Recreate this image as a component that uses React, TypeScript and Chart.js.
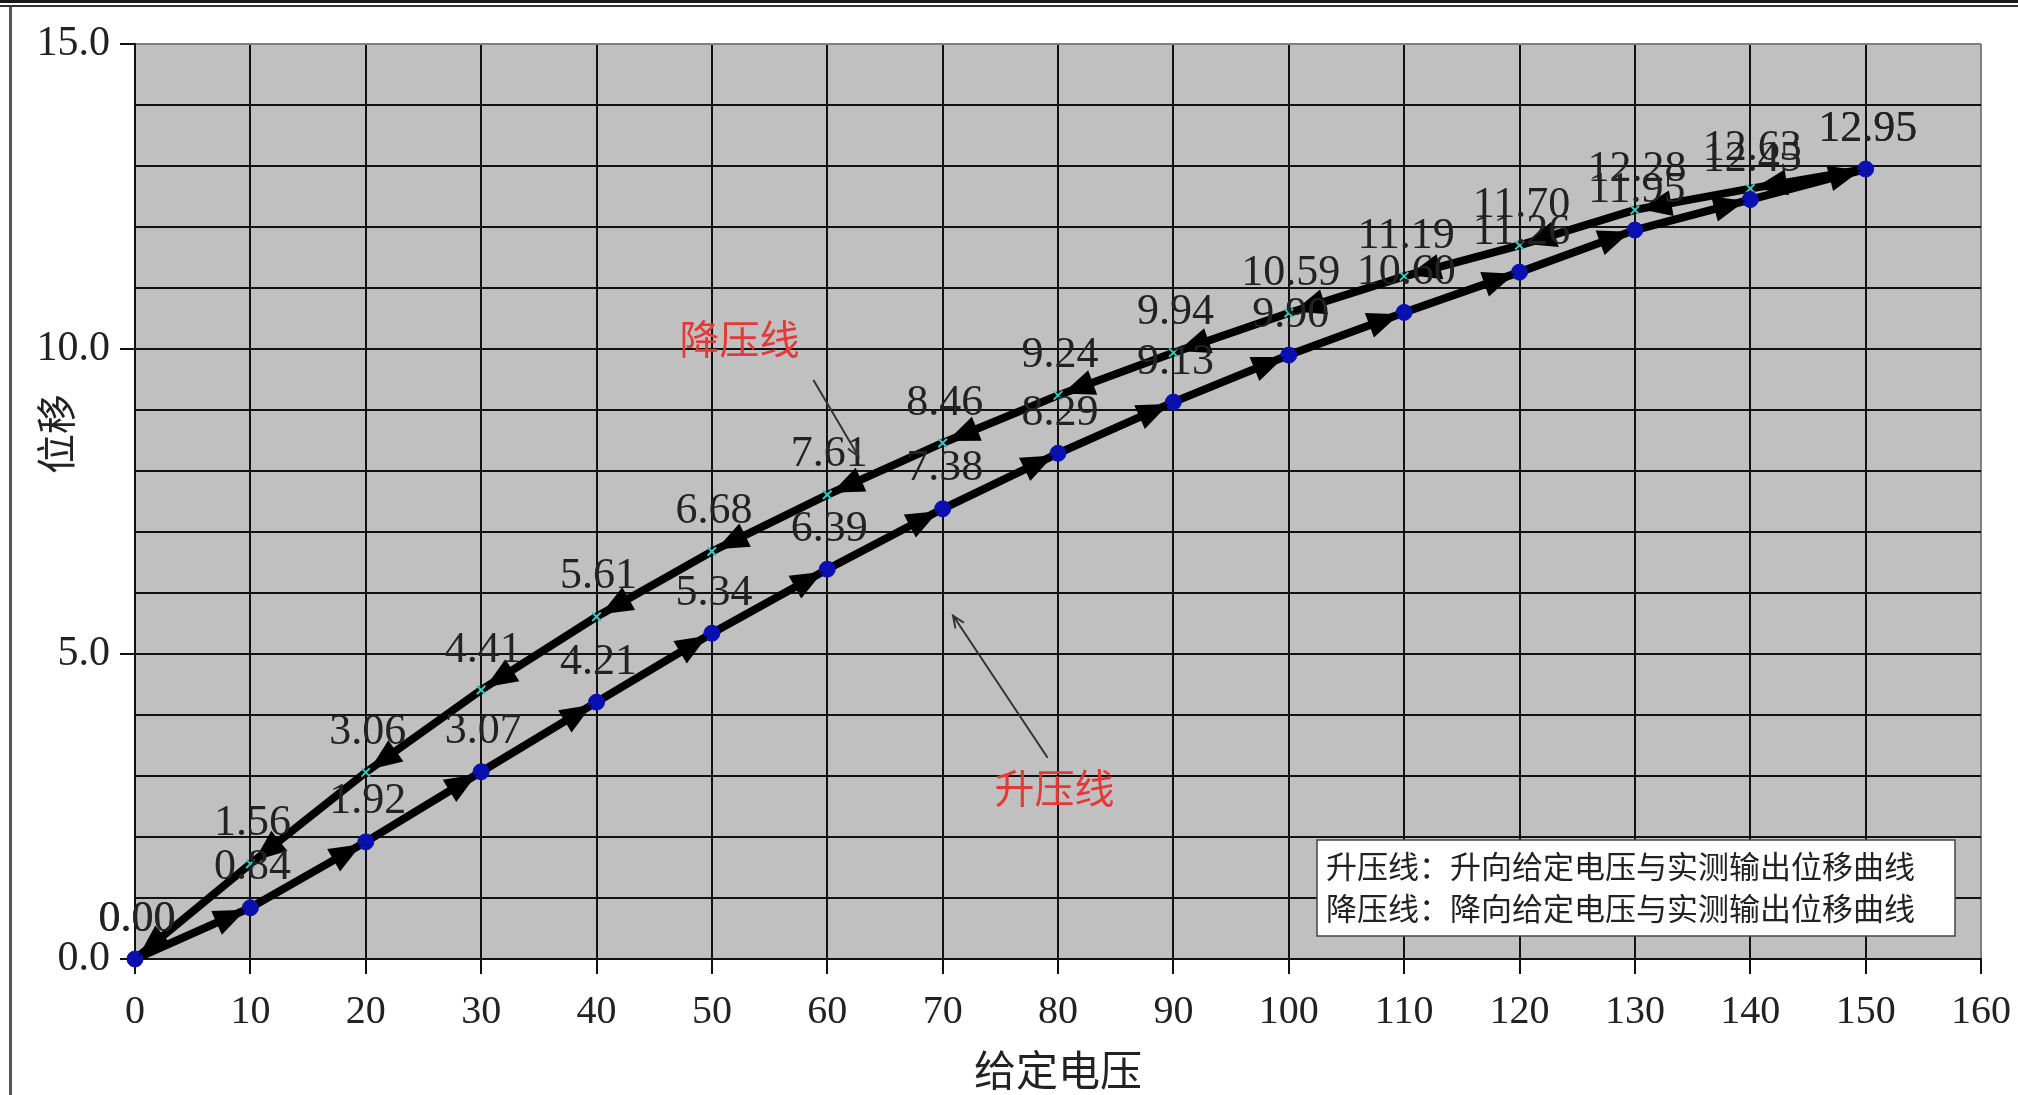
import React, { useEffect, useRef } from 'react';
import { Chart, registerables } from 'chart.js';

Chart.register(...registerables);

// ---- data ----
const riseVoltage = [0, 10, 20, 30, 40, 50, 60, 70, 80, 90, 100, 110, 120, 130, 140, 150];
const riseDisp = [0.0, 0.84, 1.92, 3.07, 4.21, 5.34, 6.39, 7.38, 8.29, 9.13, 9.9, 10.6, 11.26, 11.95, 12.45, 12.95];
const fallVoltage = [150, 140, 130, 120, 110, 100, 90, 80, 70, 60, 50, 40, 30, 20, 10, 0];
const fallDisp = [12.95, 12.63, 12.28, 11.7, 11.19, 10.59, 9.94, 9.24, 8.46, 7.61, 6.68, 5.61, 4.41, 3.06, 1.56, 0.0];

const xAxisTitle = '给定电压';
const yAxisTitle = '位移';
const legendLines = ['升压线：升向给定电压与实测输出位移曲线', '降压线：降向给定电压与实测输出位移曲线'];
const calloutTexts = ['降压线', '升压线'];
// callout anchors in data units: [labelX, labelY, lineFromX, lineFromY, lineToX, lineToY]
const calloutAnchors = [
  [52.4, 10.16, 58.8, 9.49, 62.7, 8.24],
  [79.7, 2.8, 79.1, 3.3, 70.9, 5.63],
];

const SERIF = "'Liberation Serif', 'DejaVu Serif', serif";
const CJK = "'Noto Sans CJK SC', sans-serif";

const decorPlugin = {
  id: 'decor',
  beforeDraw(chart: any) {
    const { ctx, chartArea: a, width, height } = chart;
    ctx.save();
    ctx.fillStyle = '#ffffff';
    ctx.fillRect(0, 0, width, height);
    ctx.fillStyle = '#C0C0C0';
    ctx.fillRect(a.left, a.top, a.right - a.left, a.bottom - a.top);
    // outer frame
    ctx.fillStyle = '#1a1a1a';
    ctx.fillRect(0, 0, width, 3);
    ctx.fillStyle = '#333';
    ctx.fillRect(0, 5, width, 2);
    ctx.fillStyle = '#555';
    ctx.fillRect(9, 7, 3, height - 7);
    ctx.restore();
  },
  afterDatasetsDraw(chart: any) {
    const { ctx, chartArea: a, scales } = chart;
    const xs = scales.x;
    const ys = scales.y;
    ctx.save();

    // arrowheads on every segment
    chart.data.datasets.forEach((ds: any, di: number) => {
      const meta = chart.getDatasetMeta(di);
      const pts = meta.data;
      for (let i = 0; i < pts.length - 1; i++) {
        const p0 = pts[i];
        const p1 = pts[i + 1];
        const dx = p1.x - p0.x;
        const dy = p1.y - p0.y;
        const len = Math.hypot(dx, dy);
        if (len < 1) continue;
        const ux = dx / len;
        const uy = dy / len;
        const tipX = p1.x - ux * 5;
        const tipY = p1.y - uy * 5;
        const bx = tipX - ux * 32;
        const by = tipY - uy * 32;
        const nx = -uy;
        const ny = ux;
        ctx.beginPath();
        ctx.moveTo(tipX, tipY);
        ctx.lineTo(bx + nx * 13, by + ny * 13);
        ctx.lineTo(bx - nx * 13, by - ny * 13);
        ctx.closePath();
        ctx.fillStyle = '#000';
        ctx.fill();
      }
    });

    // data labels
    ctx.font = `44px ${SERIF}`;
    ctx.fillStyle = '#222';
    ctx.textAlign = 'center';
    ctx.textBaseline = 'middle';
    chart.data.datasets.forEach((ds: any, di: number) => {
      const meta = chart.getDatasetMeta(di);
      meta.data.forEach((p: any, i: number) => {
        ctx.fillText(ds.data[i].y.toFixed(2), p.x + 2, p.y - 40);
      });
    });

    // callouts
    calloutTexts.forEach((t, i) => {
      const [lx, ly, fx, fy, tx, ty] = calloutAnchors[i];
      ctx.font = `40px ${CJK}`;
      ctx.fillStyle = '#E53838';
      ctx.textAlign = 'center';
      ctx.textBaseline = 'middle';
      ctx.fillText(t, xs.getPixelForValue(lx), ys.getPixelForValue(ly));
      const x0 = xs.getPixelForValue(fx);
      const y0 = ys.getPixelForValue(fy);
      const x1 = xs.getPixelForValue(tx);
      const y1 = ys.getPixelForValue(ty);
      ctx.strokeStyle = '#333';
      ctx.lineWidth = 2;
      ctx.beginPath();
      ctx.moveTo(x0, y0);
      ctx.lineTo(x1, y1);
      const ang = Math.atan2(y1 - y0, x1 - x0);
      ctx.moveTo(x1 - 13 * Math.cos(ang - 0.4), y1 - 13 * Math.sin(ang - 0.4));
      ctx.lineTo(x1, y1);
      ctx.lineTo(x1 - 13 * Math.cos(ang + 0.4), y1 - 13 * Math.sin(ang + 0.4));
      ctx.stroke();
    });

    // legend box
    const bx = a.right - 664;
    const by = a.bottom - 119;
    ctx.fillStyle = '#fff';
    ctx.fillRect(bx, by, 638, 96);
    ctx.strokeStyle = '#444';
    ctx.lineWidth = 1.5;
    ctx.strokeRect(bx, by, 638, 96);
    ctx.font = `31px ${CJK}`;
    ctx.fillStyle = '#222';
    ctx.textAlign = 'left';
    ctx.textBaseline = 'middle';
    legendLines.forEach((t, i) => ctx.fillText(t, bx + 9, by + 26 + i * 42));

    // y axis title
    ctx.save();
    ctx.translate(56, 434);
    ctx.rotate(-Math.PI / 2);
    ctx.font = `40px ${CJK}`;
    ctx.fillStyle = '#222';
    ctx.textAlign = 'center';
    ctx.textBaseline = 'middle';
    ctx.fillText(yAxisTitle, 0, 0);
    ctx.restore();

    ctx.restore();
  },
};

export default function App() {
  const ref = useRef<HTMLCanvasElement | null>(null);
  useEffect(() => {
    document.body.style.margin = '0';
    const canvas = ref.current;
    if (!canvas) return;
    const chart = new Chart(canvas, {
      type: 'line',
      data: {
        datasets: [
          {
            label: '升压线',
            data: riseVoltage.map((x, i) => ({ x, y: riseDisp[i] })),
            borderColor: '#000',
            borderWidth: 8,
            tension: 0,
            pointStyle: 'circle',
            pointRadius: 8,
            pointBackgroundColor: '#0A10B0',
            pointBorderColor: '#0A10B0',
            pointBorderWidth: 1,
            clip: false,
          },
          {
            label: '降压线',
            data: fallVoltage.map((x, i) => ({ x, y: fallDisp[i] })),
            borderColor: '#000',
            borderWidth: 8,
            tension: 0,
            pointStyle: 'crossRot',
            pointRadius: 6,
            pointBorderColor: '#3CC8C0',
            pointBackgroundColor: '#3CC8C0',
            pointBorderWidth: 2,
            clip: false,
          },
        ],
      },
      options: {
        responsive: false,
        animation: false,
        layout: { padding: { top: 44, right: 37, left: 0, bottom: 0 } },
        plugins: { legend: { display: false }, tooltip: { enabled: false } },
        scales: {
          x: {
            type: 'linear',
            min: 0,
            max: 160,
            afterFit: (s: any) => { s.height = 136; s.paddingRight = 0; s.paddingLeft = 0; },
            ticks: { stepSize: 10, font: { family: SERIF, size: 40 }, color: '#222', padding: 14, maxRotation: 0, autoSkip: false },
            grid: {
              color: (c: any) => (c.tick && c.tick.value === 160 ? '#808080' : '#111'),
              lineWidth: 2,
              tickLength: 15,
              tickColor: '#111',
            },
            border: { display: true, color: '#111', width: 2 },
            title: {
              display: true,
              text: xAxisTitle,
              font: { family: CJK, size: 42 },
              color: '#222',
              padding: { top: 0, bottom: 0 },
            },
          },
          y: {
            type: 'linear',
            min: 0,
            max: 15,
            afterFit: (s: any) => { s.width = 135; },
            ticks: {
              stepSize: 1,
              maxTicksLimit: 20,
              autoSkip: false,
              font: { family: SERIF, size: 42 },
              color: '#222',
              padding: 10,
              callback: (v: any) => (Number(v) % 5 === 0 ? Number(v).toFixed(1) : ''),
            },
            grid: {
              color: (c: any) => (c.tick && c.tick.value === 15 ? '#808080' : '#111'),
              lineWidth: 2,
              tickLength: 15,
              tickColor: (c: any) => (c.tick && c.tick.value % 5 === 0 ? '#111' : 'rgba(0,0,0,0)'),
            },
            border: { display: true, color: '#111', width: 2 },
          },
        },
      },
      plugins: [decorPlugin],
    } as any);
    return () => chart.destroy();
  }, []);
  return (
    <div style={{ width: 2018, height: 1095 }}>
      <canvas ref={ref} width={2018} height={1095} style={{ display: 'block' }} />
    </div>
  );
}
